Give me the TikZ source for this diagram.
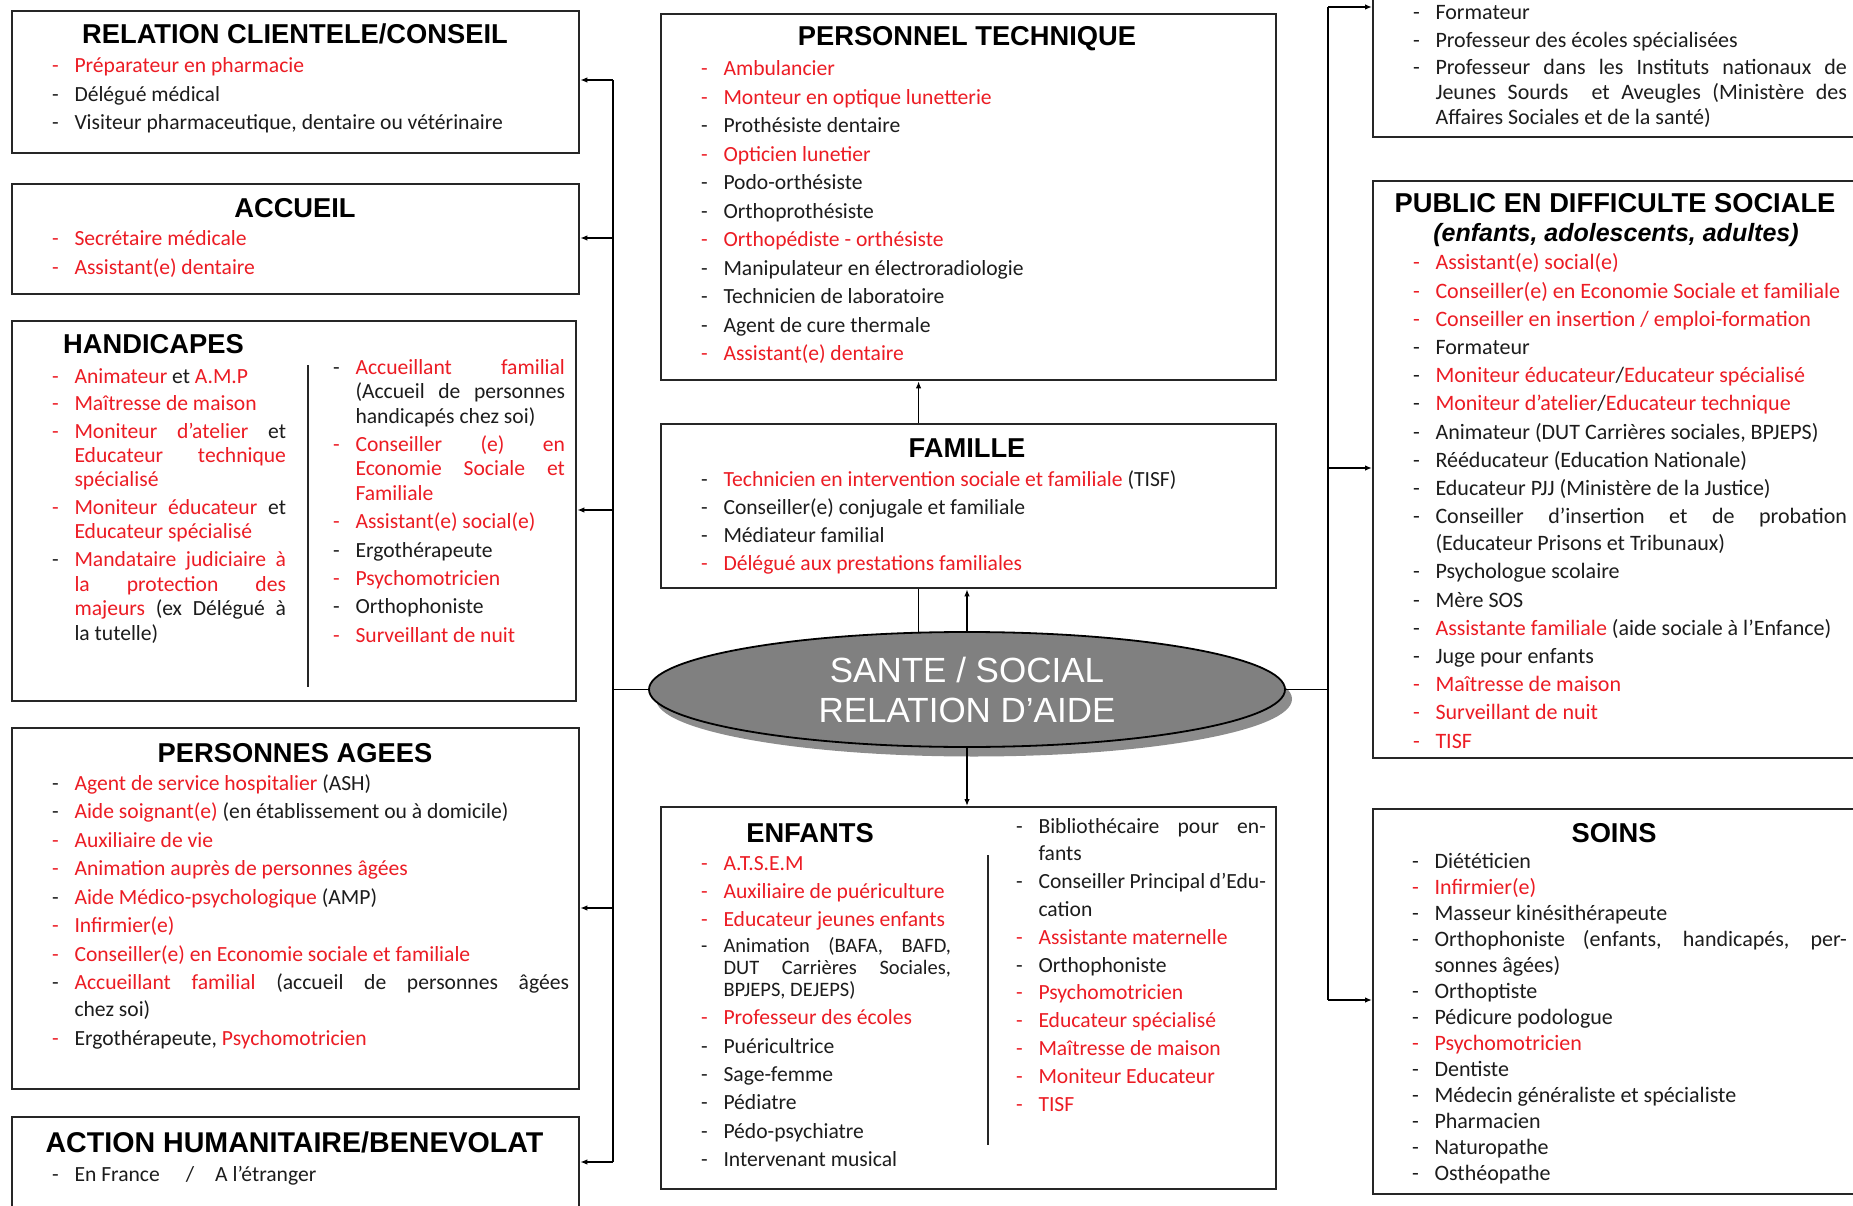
\documentclass[tikz,border=0pt]{standalone}
\usepackage{fontspec}
\setmainfont{Carlito}
\newfontfamily\tfont{Liberation Sans}
\usetikzlibrary{arrows.meta,shapes.geometric}
\definecolor{myred}{RGB}{236,28,36}
\definecolor{txt}{RGB}{28,28,28}
\newlength\dashw \setlength\dashw{22.5pt}
\newlength\cw
\newcommand\R[1]{\textcolor{myred}{#1}}
\newcommand\J[1]{\makebox[\cw][s]{#1}\newline}
\newcommand\li[2][txt]{\par\noindent\hangindent=\dashw\hangafter=1\relax\makebox[\dashw][l]{\textcolor{#1}{-}}#2}
\newcommand\lr{\li[myred]}
\newcommand\mklist[5]{\parbox[t]{#1pt}{\fontsize{#2pt}{#3pt}\selectfont\parskip=#4pt\relax\setlength\cw{\dimexpr#1pt-\dashw\relax}\tolerance=10000\hyphenpenalty=10000\relax#5\par}}
\tikzset{
  box/.style={draw=black!85, line width=2.3pt, inner sep=0pt, anchor=north west},
  lst/.style={anchor=base west, inner sep=0pt, outer sep=0pt, text=txt},
  ttl/.style={anchor=base, inner sep=0pt, text=black, font=\tfont\bfseries\fontsize{27.3}{30}\selectfont},
  conn/.style={draw=black, line width=1.6pt},
  arr/.style={conn, -{Latex[length=7pt,width=5.5pt]}},
  divider/.style={draw=black!85, line width=1.6pt},
  coretext/.style={anchor=base, inner sep=0pt, text=white, font=\tfont\fontsize{35}{38}\selectfont}
}
\begin{document}
\begin{tikzpicture}[x=1pt,y=-1pt]
\useasboundingbox (0,0) rectangle (1853,1206);
\clip (0,0) rectangle (1853,1206);
\fill[white] (0,0) rectangle (1853,1206);

% ---------------- boxes ----------------
\node[box, minimum width=567pt, minimum height=142pt] (rcc) at (11,10) {};
\node[box, minimum width=567pt, minimum height=110pt] (acc) at (11,183) {};
\node[box, minimum width=564pt, minimum height=380pt] (hand) at (11,320) {};
\node[box, minimum width=567pt, minimum height=361pt] (pa) at (11,727) {};
\node[box, minimum width=567pt, minimum height=130pt] (ah) at (11,1116) {};
\node[box, minimum width=615pt, minimum height=366pt] (pt) at (660,13) {};
\node[box, minimum width=615pt, minimum height=164pt] (fam) at (660,423) {};
\node[box, minimum width=615pt, minimum height=382pt] (enf) at (660,806) {};
\node[box, minimum width=520pt, minimum height=156pt] (topr) at (1372,-20) {};
\node[box, minimum width=520pt, minimum height=577pt] (pub) at (1372,180) {};
\node[box, minimum width=520pt, minimum height=385pt] (soins) at (1372,808) {};

% ---------------- titles ----------------
\node[ttl] (rcc-t) at (295,43.5) {RELATION CLIENTELE/CONSEIL};
\node[ttl] (acc-t) at (295,218) {ACCUEIL};
\node[ttl] (hand-t) at (153.5,353) {HANDICAPES};
\node[ttl] (pa-t) at (295,762) {PERSONNES AGEES};
\node[ttl, font=\tfont\bfseries\fontsize{28.6}{30}\selectfont] (ah-t) at (294.5,1152) {ACTION HUMANITAIRE/BENEVOLAT};
\node[ttl] (pt-t) at (967,46) {PERSONNEL TECHNIQUE};
\node[ttl] (fam-t) at (967,457) {FAMILLE};
\node[ttl] (enf-t) at (810,842) {ENFANTS};
\node[ttl] (pub-t) at (1615,213) {PUBLIC EN DIFFICULTE SOCIALE};
\node[ttl, font=\tfont\bfseries\itshape\fontsize{25}{28}\selectfont] (pub-s) at (1616,242) {(enfants, adolescents, adultes)};
\node[ttl] (soins-t) at (1614,842) {SOINS};

% ---------------- lists ----------------
\node[lst] (rcc-l) at (52,73) {\mklist{520}{21.6}{28.5}{0}{%
\lr{\R{Préparateur en pharmacie}}%
\li{Délégué médical}%
\li{Visiteur pharmaceutique, dentaire ou vétérinaire}}};

\node[lst] (acc-l) at (52,246) {\mklist{520}{21.6}{29}{0}{%
\lr{\R{Secrétaire médicale}}%
\lr{\R{Assistant(e) dentaire}}}};

\node[lst] (hand-l) at (52,383) {\mklist{234}{21.6}{24.5}{3}{%
\lr{\R{Animateur} et \R{A.M.P}}%
\lr{\R{Maîtresse de maison}}%
\lr{\J{\R{Moniteur d’atelier} et}\J{\R{Educateur technique}}\R{spécialisé}}%
\lr{\J{\R{Moniteur éducateur} et}\R{Educateur spécialisé}}%
\li{\J{\R{Mandataire judiciaire à}}\J{\R{la protection des}}\J{\R{majeurs} (ex Délégué à}la tutelle)}}};

\node[lst] (hand-r) at (333,374) {\mklist{232}{21.6}{24.5}{3.9}{%
\li{\J{\R{Accueillant familial}}\J{(Accueil de personnes}handicapés chez soi)}%
\lr{\J{\R{Conseiller (e) en}}\J{\R{Economie Sociale et}}\R{Familiale}}%
\lr{\R{Assistant(e) social(e)}}%
\li{Ergothérapeute}%
\lr{\R{Psychomotricien}}%
\li{Orthophoniste}%
\lr{\R{Surveillant de nuit}}}};

\node[lst] (pa-l) at (52,790) {\mklist{517}{21.6}{27}{1.5}{%
\li{\R{Agent de service hospitalier} (ASH)}%
\li{\R{Aide soignant(e)} (en établissement ou à domicile)}%
\lr{\R{Auxiliaire de vie}}%
\lr{\R{Animation auprès de personnes âgées}}%
\li{\R{Aide Médico-psychologique} (AMP)}%
\lr{\R{Infirmier(e)}}%
\lr{\R{Conseiller(e) en Economie sociale et familiale}}%
\li{\J{\R{Accueillant familial} (accueil de personnes âgées}chez soi)}%
\lr{Ergothérapeute, \R{Psychomotricien}}}};

\node[lst] (ah-l) at (52,1181) {\mklist{520}{21.6}{28}{0}{%
\li{En France\hspace{26pt}/\hspace{21pt}A l’étranger}}};

\node[lst] (pt-l) at (701,76) {\mklist{560}{21.6}{28.5}{0}{%
\lr{\R{Ambulancier}}%
\lr{\R{Monteur en optique lunetterie}}%
\li{Prothésiste dentaire}%
\lr{\R{Opticien lunetier}}%
\li{Podo-orthésiste}%
\li{Orthoprothésiste}%
\lr{\R{Orthopédiste - orthésiste}}%
\li{Manipulateur en électroradiologie}%
\li{Technicien de laboratoire}%
\li{Agent de cure thermale}%
\lr{\R{Assistant(e) dentaire}}}};

\node[lst] (fam-l) at (701,486) {\mklist{560}{21.6}{28.3}{0}{%
\li{\R{Technicien en intervention sociale et familiale} (TISF)}%
\li{Conseiller(e) conjugale et familiale}%
\li{Médiateur familial}%
\lr{\R{Délégué aux prestations familiales}}}};

\node[lst] (enf-l) at (701,870) {\mklist{250}{21.6}{28.3}{0}{%
\lr{\R{A.T.S.E.M}}%
\lr{\R{Auxiliaire de puériculture}}%
\lr{\R{Educateur jeunes enfants}}\par
{\fontsize{20.5}{22}\selectfont\parskip=4pt\relax
\li{\J{Animation (BAFA, BAFD,}\J{DUT Carrières Sociales,}BPJEPS, DEJEPS)}\par}%
\lr{\R{Professeur des écoles}}%
\li{Puéricultrice}%
\li{Sage-femme}%
\li{Pédiatre}%
\li{Pédo-psychiatre}%
\li{Intervenant musical}}};

\node[lst] (enf-r) at (1016,833) {\mklist{250}{21.6}{27.8}{0}{%
\li{\J{Bibliothécaire pour en-}fants}%
\li{\J{Conseiller Principal d’Edu-}cation}%
\lr{\R{Assistante maternelle}}%
\li{Orthophoniste}%
\lr{\R{Psychomotricien}}%
\lr{\R{Educateur spécialisé}}%
\lr{\R{Maîtresse de maison}}%
\lr{\R{Moniteur Educateur}}%
\lr{\R{TISF}}}};

\node[lst] (topr-l) at (1413,20) {\mklist{434}{22}{25}{2.5}{%
\li{Formateur}%
\li{Professeur des écoles spécialisées}%
\li{\J{Professeur dans les Instituts nationaux de}\J{Jeunes Sourds\ \ et Aveugles (Ministère des}Affaires Sociales et de la santé)}}};

\node[lst] (pub-l) at (1413,270) {\mklist{434}{22}{27}{1.2}{%
\lr{\R{Assistant(e) social(e)}}%
\lr{\R{Conseiller(e) en Economie Sociale et familiale}}%
\lr{\R{Conseiller en insertion / emploi-formation}}%
\li{Formateur}%
\li{\R{Moniteur éducateur}/\R{Educateur spécialisé}}%
\li{\R{Moniteur d’atelier}/\R{Educateur technique}}%
\li{Animateur (DUT Carrières sociales, BPJEPS)}%
\li{Rééducateur (Education Nationale)}%
\li{Educateur PJJ (Ministère de la Justice)}%
\li{\J{Conseiller d’insertion et de probation}(Educateur Prisons et Tribunaux)}%
\li{Psychologue scolaire}%
\li{Mère SOS}%
\li{\R{Assistante familiale} (aide sociale à l’Enfance)}%
\li{Juge pour enfants}%
\lr{\R{Maîtresse de maison}}%
\lr{\R{Surveillant de nuit}}%
\lr{\R{TISF}}}};

\node[lst] (soins-l) at (1412,868) {\mklist{435}{22}{26}{0}{%
\li{Diététicien}%
\lr{\R{Infirmier(e)}}%
\li{Masseur kinésithérapeute}%
\li{\J{Orthophoniste (enfants, handicapés, per-}sonnes âgées)}%
\li{Orthoptiste}%
\li{Pédicure podologue}%
\lr{\R{Psychomotricien}}%
\li{Dentiste}%
\li{Médecin généraliste et spécialiste}%
\li{Pharmacien}%
\li{Naturopathe}%
\li{Osthéopathe}}};

% ---------------- dividers ----------------
\draw[divider] (308,365) -- (308,687);
\draw[divider] (988,855) -- (988,1145);

% ---------------- central ellipse ----------------
\node[ellipse, fill=black!45, minimum width=636pt, minimum height=115pt, inner sep=0pt] (core-sh) at (974,699) {};
\node[ellipse, draw=black, line width=1.8pt, fill=black!50, minimum width=636pt, minimum height=115pt, inner sep=0pt] (core) at (967,689.5) {};
\node[coretext] (core-t1) at (967,682) {SANTE / SOCIAL};
\node[coretext] (core-t2) at (967,722) {RELATION D’AIDE};

% ---------------- left trunk ----------------
\coordinate (L1) at (613,80);
\coordinate (L2) at (613,238);
\coordinate (L3) at (613,510);
\coordinate (Lm) at (613,689.5);
\coordinate (L4) at (613,908);
\coordinate (L5) at (613,1162);
\draw[conn] (L1) -- (L5);
\draw[conn] (core.west) -- (Lm);
\draw[arr] (L1) -- (L1 -| rcc.east);
\draw[arr] (L2) -- (L2 -| acc.east);
\draw[arr] (L3) -- (L3 -| hand.east);
\draw[arr] (L4) -- (L4 -| pa.east);
\draw[arr] (L5) -- (L5 -| ah.east);

% ---------------- right trunk ----------------
\coordinate (R1) at (1328,7);
\coordinate (R2) at (1328,468);
\coordinate (Rm) at (1328,689.5);
\coordinate (R3) at (1328,1000);
\draw[conn] (R1) -- (R3);
\draw[conn] (core.east) -- (Rm);
\draw[arr] (R1) -- (R1 -| topr.west);
\draw[arr] (R2) -- (R2 -| pub.west);
\draw[arr] (R3) -- (R3 -| soins.west);

% ---------------- vertical links ----------------
\draw[conn] (core.130.8) -- (core.130.8 |- fam.south);
\draw[arr] (fam.north -| core.130.8) -- (pt.south -| core.130.8);
\draw[arr] (core.north) -- (core.north |- fam.south);
\draw[arr] (core.south) -- (core.south |- enf.north);
\end{tikzpicture}
\end{document}
